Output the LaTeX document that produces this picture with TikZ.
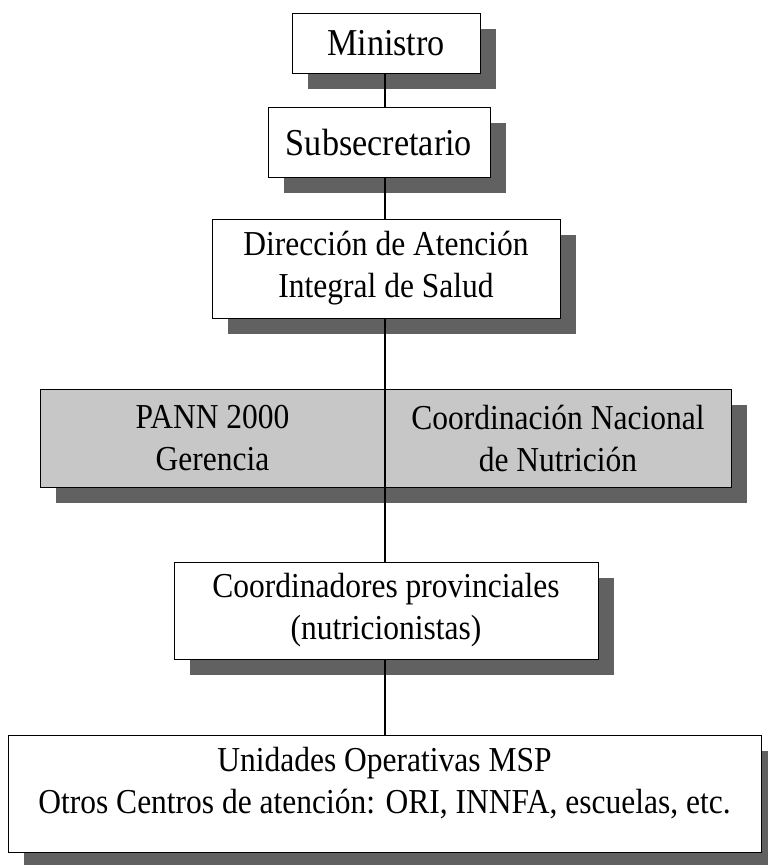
\documentclass[tikz,border=0pt]{standalone}
\usepackage{fontspec}
\setmainfont[FakeStretch=0.9]{Liberation Serif}
\usetikzlibrary{positioning,shadows}
\tikzset{
    %Define style for boxes
    cuadro/.style={
           rectangle,
           draw,
           fill=white,
           line width=1pt,
           align=center,
           font=\fontsize{35}{42}\selectfont,
           drop shadow={shadow xshift=16pt, shadow yshift=-16pt,
                        fill=black!62, opacity=1}},
    cuadrogris/.style={
           cuadro,
           fill=black!22},
    % Define line style
    linea/.style={
           line width=1.1pt}
}
\begin{document}
\begin{tikzpicture}[x=1pt, y=-1pt]
 \useasboundingbox (0,0) rectangle (768,865);
 % upper levels
 \node [cuadro, font=\fontsize{38}{42}\selectfont, minimum width=188pt, minimum height=60pt] (ministro) at (386,43) {Ministro};
 \node [cuadro, font=\fontsize{38}{42}\selectfont, minimum width=222pt, minimum height=70pt] (subsec) at (379,142) {Subsecretario};
 \node [cuadro, minimum width=348pt, minimum height=99pt] (direccion) at (386,268.5)
 {Dirección de Atención\\Integral de Salud};

 % gray row
 \node [cuadrogris, minimum width=345pt, minimum height=98pt] (pann) at (212.5,438)
 {PANN 2000\\Gerencia};
 \node [cuadrogris, minimum width=346pt, minimum height=98pt] (nutricion) at (558,438)
 {Coordinación Nacional\\de Nutrición};

 % lower levels
 \node [cuadro, minimum width=424pt, minimum height=97pt] (provinciales) at (386,610.5)
 {Coordinadores provinciales\\(nutricionistas)};
 \node [cuadro, minimum width=753pt, minimum height=117pt] (unidades) at (384.5,793.5)
 {Unidades Operativas MSP\\Otros Centros de atención: ORI, INNFA, escuelas, etc.\\[-16pt]\mbox{}};

 % paths
 \draw [linea] (ministro.south -| 385,0) -- (subsec.north -| 385,0);
 \draw [linea] (subsec.south -| 385,0) -- (direccion.north -| 385,0);
 \draw [linea] (direccion.south -| 385,0) -- (provinciales.north -| 385,0);
 \draw [linea] (provinciales.south -| 385,0) -- (unidades.north -| 385,0);
\end{tikzpicture}
\end{document}
